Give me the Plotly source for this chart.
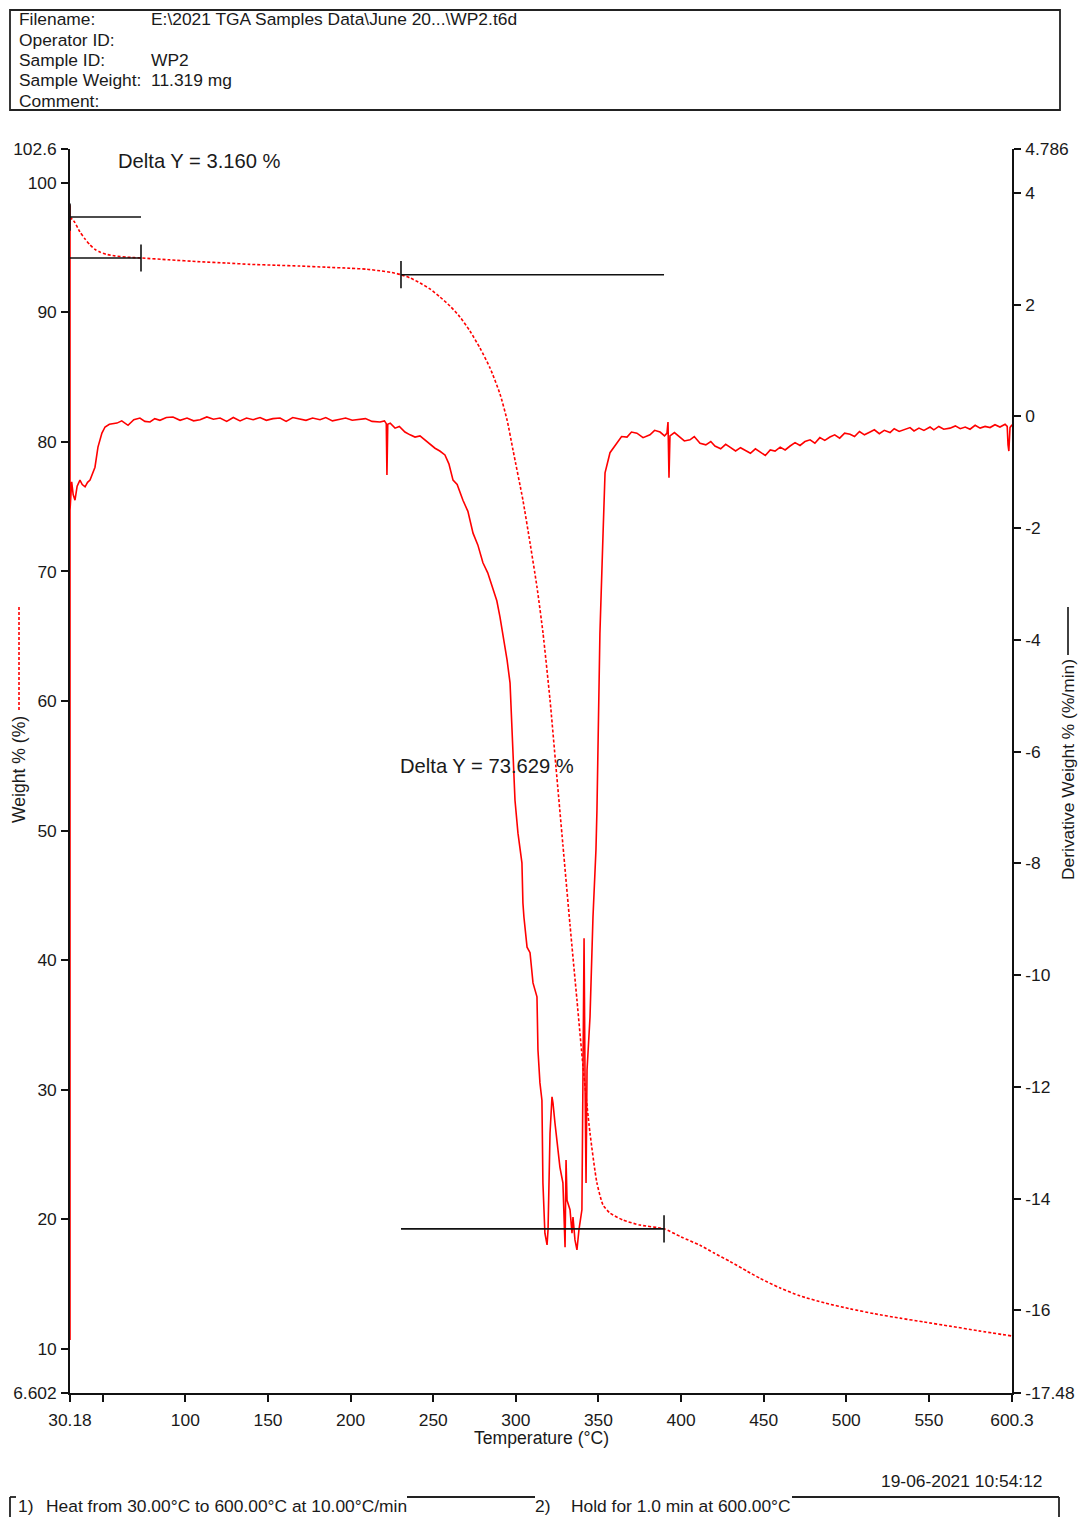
import plotly.graph_objects as go

# ---------------- data ----------------
# TGA weight curve: temperature (°C) vs weight (%)
WEIGHT_T = [30.18, 33.0, 36.2, 39.3, 42.3, 45.3, 48.3, 52.0, 57.4, 65.0, 73.15,
            90.0, 108.9, 125.0, 139.1, 155.0, 169.4, 185.0, 199.6, 210.0, 217.8,
            225.0, 230.5, 236.0, 242.0, 248.0, 254.1, 260.2, 266.2, 272.2, 278.3,
            284.4, 290.4, 294.7, 298.3, 304.3, 308.6, 312.8, 316.45, 320.7,
            324.3, 328.5, 332.8, 337.0, 340.7, 344.9, 349.1, 352.8, 357.0, 364.9,
            375.2, 389.7, 400.0, 411.5, 420.0, 429.6, 440.0, 447.8, 460.0, 472.0,
            487.0, 502.3, 517.0, 532.5, 547.0, 562.8, 580.0, 600.3]
WEIGHT_PCT = [97.35, 96.95, 96.2, 95.65, 95.2, 94.85, 94.65, 94.48, 94.35, 94.25, 94.19,
              94.05, 93.9, 93.8, 93.7, 93.63, 93.57, 93.48, 93.4, 93.32, 93.2,
              93.07, 92.9, 92.65, 92.26, 91.8, 91.18, 90.48, 89.64, 88.56, 87.24,
              85.7, 83.7, 81.69, 79.37, 75.5, 72.2, 68.8, 65.25, 60.08,
              54.91, 48.89, 42.72, 36.93, 31.76, 26.66, 22.81, 21.11, 20.49, 19.95,
              19.56, 19.271, 18.65, 18.0, 17.4, 16.75, 16.0, 15.45, 14.7, 14.1,
              13.55, 13.1, 12.72, 12.38, 12.08, 11.76, 11.4, 11.0]

# Derivative weight (%/min) vs temperature (°C)
DERIV_T = [30.18, 30.18, 30.18, 31.2, 32.1, 33.2, 34.5, 36.2, 37.6, 39.3, 40.8,
           42.3, 44.1, 45.3, 47.1, 49.5, 51.4, 54.0, 58.6, 61.5, 65.3, 68.8,
           72.5, 75.5, 78.6, 81.5, 84.6, 88.5, 92.5, 96.8, 101.0, 105.0,
           108.9, 113.0, 117.0, 121.0, 125.0, 129.0, 133.1, 137.0, 141.0,
           145.2, 149.0, 153.0, 157.3, 161.0, 165.0, 169.4, 173.0, 177.0,
           181.5, 185.0, 189.0, 193.6, 197.0, 201.0, 205.7, 209.0, 213.0,
           217.8, 220.5, 221.6, 222.0, 222.5, 224.0, 226.9, 229.5, 232.9,
           236.0, 239.0, 242.0, 245.0, 248.0, 251.1, 254.0, 257.1, 259.5,
           262.0, 264.5, 268.0, 271.0, 274.1, 277.0, 280.1, 283.0, 286.2,
           288.5, 290.4, 292.5, 294.7, 296.5, 297.7, 299.5, 301.3, 302.5,
           303.7, 304.3, 304.9, 306.8, 308.6, 310.4, 312.8, 313.4, 314.6,
           315.8, 316.4, 317.6, 318.9, 319.5, 320.7, 321.9, 322.5, 323.7,
           324.9, 326.7, 328.5, 329.8, 330.4, 331.0, 332.8, 334.0, 334.6,
           335.8, 337.0, 338.2, 340.0, 340.7, 341.3, 341.9, 342.5, 343.1,
           344.9, 346.7, 348.5, 349.1, 349.7, 350.9, 352.8, 354.0, 357.0,
           361.2, 364.0, 367.3, 370.0, 373.3, 377.0, 381.2, 384.0, 387.3,
           390.0, 391.5, 392.1, 392.7, 393.3, 396.0, 399.3, 402.0, 405.4,
           408.0, 411.5, 415.0, 418.0, 420.5, 424.0, 427.0, 429.6, 433.0,
           436.0, 438.7, 442.0, 445.0, 447.8, 451.0, 454.0, 456.9, 460.0,
           463.0, 466.0, 469.0, 472.0, 475.0, 478.1, 481.0, 484.0, 487.0,
           490.1, 493.0, 496.0, 499.0, 502.3, 505.0, 508.0, 511.0, 514.4,
           517.0, 520.0, 523.0, 526.5, 529.0, 532.0, 535.0, 538.6, 541.0,
           544.0, 547.0, 550.7, 553.0, 556.0, 559.0, 562.8, 566.0, 569.0,
           572.0, 574.9, 578.0, 581.0, 584.0, 587.0, 590.0, 593.0, 596.1,
           597.4, 597.9, 598.4, 599.1, 600.3]
DERIV_VAL = [3.78, -16.53, -1.68, -1.17, -1.40, -1.50, -1.25, -1.14, -1.22, -1.26, -1.18,
             -1.14, -1.01, -0.91, -0.55, -0.30, -0.19, -0.14, -0.12, -0.08, -0.16, -0.06,
             -0.03, -0.09, -0.10, -0.04, -0.07, -0.02, -0.01, -0.07, -0.03, -0.08,
             -0.06, -0.01, -0.05, -0.03, -0.09, -0.02, -0.08, -0.03, -0.06,
             -0.02, -0.07, -0.04, -0.03, -0.09, -0.02, -0.04, -0.07, -0.03,
             -0.06, -0.02, -0.08, -0.05, -0.03, -0.07, -0.06, -0.04, -0.09,
             -0.10, -0.08, -0.13, -1.05, -0.14, -0.12, -0.21, -0.18, -0.28,
             -0.33, -0.37, -0.35, -0.42, -0.50, -0.57, -0.62, -0.69, -0.85,
             -1.14, -1.22, -1.50, -1.70, -2.09, -2.30, -2.62, -2.80, -3.11,
             -3.30, -3.59, -3.95, -4.36, -4.77, -5.67, -6.87, -7.46, -7.76,
             -7.99, -8.71, -8.96, -9.50, -9.60, -10.14, -10.39, -11.34, -11.93,
             -12.24, -13.72, -14.62, -14.83, -14.56, -12.83, -12.18, -12.29, -12.65,
             -13.01, -13.44, -13.72, -14.87, -13.31, -14.03, -14.20, -14.62, -14.33,
             -14.74, -14.92, -14.56, -14.20, -11.34, -9.34, -11.93, -13.72, -11.70,
             -10.75, -8.96, -7.76, -7.05, -5.67, -3.88, -2.09, -1.01, -0.65,
             -0.48, -0.36, -0.37, -0.28, -0.30, -0.38, -0.33, -0.25, -0.28,
             -0.35, -0.30, -0.10, -1.10, -0.35, -0.29, -0.37, -0.44, -0.42,
             -0.36, -0.48, -0.51, -0.45, -0.53, -0.58, -0.50, -0.55, -0.62,
             -0.56, -0.60, -0.66, -0.58, -0.64, -0.70, -0.60, -0.62, -0.55,
             -0.60, -0.53, -0.47, -0.52, -0.45, -0.42, -0.48, -0.38, -0.43,
             -0.37, -0.33, -0.39, -0.30, -0.32, -0.36, -0.27, -0.33, -0.28,
             -0.24, -0.31, -0.25, -0.29, -0.22, -0.27, -0.24, -0.20, -0.26,
             -0.21, -0.25, -0.19, -0.24, -0.18, -0.23, -0.21, -0.17, -0.22,
             -0.19, -0.23, -0.16, -0.21, -0.18, -0.20, -0.15, -0.19, -0.14,
             -0.18, -0.51, -0.62, -0.20, -0.15]

X_TICKS = [30.18, 50, 100, 150, 200, 250, 300, 350, 400, 450, 500, 550, 600.3]
X_TICK_TEXT = ["30.18", "", "100", "150", "200", "250", "300", "350", "400",
               "450", "500", "550", "600.3"]
Y_TICKS = [6.602, 10, 20, 30, 40, 50, 60, 70, 80, 90, 100, 102.6]
Y_TICK_TEXT = ["6.602", "10", "20", "30", "40", "50", "60", "70", "80", "90",
               "100", "102.6"]
Y2_TICKS = [-17.48, -16, -14, -12, -10, -8, -6, -4, -2, 0, 2, 4, 4.786]
Y2_TICK_TEXT = ["-17.48", "-16", "-14", "-12", "-10", "-8", "-6", "-4", "-2",
                "0", "2", "4", "4.786"]

# Weight-loss steps: start/end temperature and weight at each end
STEP_T_START = [30.18, 230.5]
STEP_T_END = [73.15, 389.7]
STEP_W_START = [97.35, 92.90]
STEP_W_END = [94.19, 19.271]

HEADER_LABELS = ["Filename:", "Operator ID:", "Sample ID:", "Sample Weight:", "Comment:"]
HEADER_VALUES = ["E:\\2021 TGA Samples Data\\June 20...\\WP2.t6d", "", "WP2", "11.319 mg", ""]

# ---------------- layout helpers ----------------
W, H = 1080, 1517
PL, PR, PT, PB = 70, 1012, 149, 1393   # plot-area edges in pixels


def px(x):
    return (x - PL) / (PR - PL)


def py(y):
    return (PB - y) / (PB - PT)


FONT = "Liberation Sans, Arial, sans-serif"
TXT = "#1a1a1a"
RED = "#ff0000"
FS = 17.4

fig = go.Figure()

fig.add_trace(go.Scatter(
    x=WEIGHT_T, y=WEIGHT_PCT, mode="lines", yaxis="y",
    line=dict(color=RED, width=1.6, dash="3px,2px", shape="spline", smoothing=0.6),
    hoverinfo="skip", showlegend=False))

fig.add_trace(go.Scatter(
    x=DERIV_T, y=DERIV_VAL, mode="lines", yaxis="y2",
    line=dict(color=RED, width=1.6), hoverinfo="skip", showlegend=False))

shapes = []
annotations = []


def text(x, y, s, size=FS, xanchor="left", angle=0):
    annotations.append(dict(x=px(x), y=py(y), xref="paper", yref="paper", text=s,
                            showarrow=False, xanchor=xanchor, yanchor="middle",
                            textangle=angle, borderpad=0,
                            font=dict(family=FONT, size=size, color=TXT)))


def pline(x0, y0, x1, y1, **line):
    shapes.append(dict(type="line", xref="paper", yref="paper", x0=px(x0), x1=px(x1),
                       y0=py(y0), y1=py(y1), line=line))


# step markers and their delta labels
TICK_HALF = 1.05
for ts, te, ws, we in zip(STEP_T_START, STEP_T_END, STEP_W_START, STEP_W_END):
    line = dict(color="#111111", width=1.6)
    shapes.append(dict(type="line", xref="x", yref="y", x0=ts, x1=te, y0=ws, y1=ws, line=line))
    shapes.append(dict(type="line", xref="x", yref="y", x0=ts, x1=te, y0=we, y1=we, line=line))
    shapes.append(dict(type="line", xref="x", yref="y", x0=ts, x1=ts,
                       y0=ws - TICK_HALF, y1=ws + TICK_HALF, line=line))
    shapes.append(dict(type="line", xref="x", yref="y", x0=te, x1=te,
                       y0=we - TICK_HALF, y1=we + TICK_HALF, line=line))

delta_pos = [(58.7, 101.65), (229.3, 55.0)]
for (lx, ly), ws, we in zip(delta_pos, STEP_W_START, STEP_W_END):
    annotations.append(dict(
        x=lx, y=ly, xref="x", yref="y", xanchor="left", yanchor="middle",
        text=f"Delta Y = {ws - we:.3f} %", showarrow=False, borderpad=0,
        font=dict(family=FONT, size=20.2, color=TXT)))

# header box
shapes.append(dict(type="rect", xref="paper", yref="paper",
                   x0=px(10), x1=px(1060), y0=py(10), y1=py(110),
                   line=dict(color="#222222", width=1.8)))
for i, (lab, val) in enumerate(zip(HEADER_LABELS, HEADER_VALUES)):
    yy = 19.5 + i * 20.3
    text(17.5, yy, lab)
    if val:
        text(149.5, yy, val)

# axis titles with their line-style keys
text(19, 770, "Weight % (%)", size=17.6, xanchor="center", angle=-90)
pline(19, 710, 19, 605, color=RED, width=1.6, dash="3px,2px")
text(1068, 770, "Derivative Weight % (%/min)", size=17.4, xanchor="center", angle=-90)
pline(1068, 655, 1068, 607, color="#111111", width=1.6)
text(541, 1438, "Temperature (°C)", size=17.6, xanchor="center")

# footer: timestamp and method segments
text(1043, 1481, "19-06-2021 10:54:12", xanchor="right")
text(16.5, 1506, "1)")
text(44.5, 1506, "Heat from 30.00°C to 600.00°C at 10.00°C/min")
text(533.5, 1506, "2)")
text(569.5, 1506, "Hold for 1.0 min at 600.00°C")
foot = dict(color="#222222", width=1.8)
pline(10, 1497, 10, 1517, **foot)
pline(10, 1497, 16, 1497, **foot)
pline(407, 1497, 535, 1497, **foot)
pline(792, 1497, 1059, 1497, **foot)
pline(1059, 1497, 1059, 1517, **foot)

axis_common = dict(showgrid=False, zeroline=False, showline=True, linecolor="#111111",
                   linewidth=1.6, ticks="outside", ticklen=7, tickwidth=1.6,
                   tickcolor="#111111", tickfont=dict(family=FONT, size=FS, color=TXT),
                   layer="below traces", automargin=False)

fig.update_layout(
    width=W, height=H, autosize=False,
    margin=dict(l=PL, r=W - PR, t=PT, b=H - PB, pad=0, autoexpand=False),
    paper_bgcolor="white", plot_bgcolor="white",
    hovermode=False,
    xaxis=dict(range=[30.18, 600.3], tickmode="array", tickvals=X_TICKS,
               ticktext=X_TICK_TEXT, ticklabelstandoff=3, **axis_common),
    yaxis=dict(range=[6.602, 102.6], tickmode="array", tickvals=Y_TICKS,
               ticktext=Y_TICK_TEXT, ticklabelstandoff=1, **axis_common),
    yaxis2=dict(range=[-17.48, 4.786], tickmode="array", tickvals=Y2_TICKS,
                ticktext=Y2_TICK_TEXT, overlaying="y", side="right",
                ticklabelstandoff=1, **axis_common),
    shapes=shapes,
    annotations=annotations,
)

fig.write_html("out.html")
